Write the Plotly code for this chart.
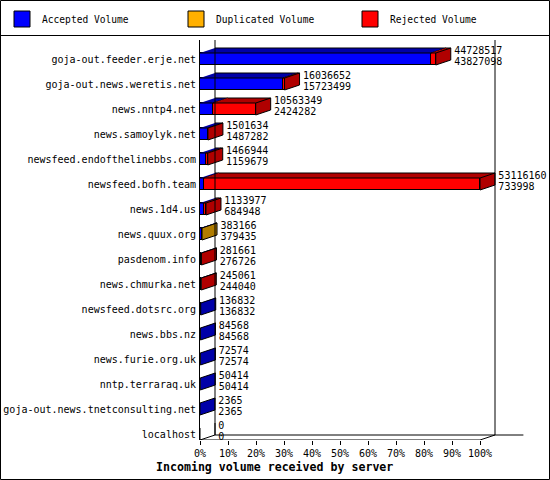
import plotly.graph_objects as go

# ---------------- data ----------------
hosts = [
    "goja-out.feeder.erje.net",
    "goja-out.news.weretis.net",
    "news.nntp4.net",
    "news.samoylyk.net",
    "newsfeed.endofthelinebbs.com",
    "newsfeed.bofh.team",
    "news.1d4.us",
    "news.quux.org",
    "pasdenom.info",
    "news.chmurka.net",
    "newsfeed.dotsrc.org",
    "news.bbs.nz",
    "news.furie.org.uk",
    "nntp.terraraq.uk",
    "goja-out.news.tnetconsulting.net",
    "localhost",
]
total_volume = [44728517, 16036652, 10563349, 1501634, 1466944, 53116160,
                1133977, 383166, 281661, 245061, 136832, 84568, 72574,
                50414, 2365, 0]
accepted_volume = [43827098, 15723499, 2424282, 1487282, 1159679, 733998,
                   684948, 379435, 276726, 244040, 136832, 84568, 72574,
                   50414, 2365, 0]
duplicated_volume = [0, 0, 0, 0, 0, 0, 0, 3731, 0, 0, 0, 0, 0, 0, 0, 0]
rejected_volume = [t - a - d for t, a, d in
                   zip(total_volume, accepted_volume, duplicated_volume)]

series_names = ["Accepted Volume", "Duplicated Volume", "Rejected Volume"]
pct_ticks = [0, 10, 20, 30, 40, 50, 60, 70, 80, 90, 100]
pct_tick_labels = [f"{p}%" for p in pct_ticks]
x_title = "Incoming volume received by server"

# ---------------- style ----------------
FRONT = ["#0000FF", "#FFB000", "#FF0000"]
DARK = ["#0000A8", "#B07C00", "#B00000"]
MONO = "DejaVu Sans Mono"

W, H_FIG = 550, 480
M_L, M_R, M_T, M_B = 200, 1, 40, 40
PX_PER_PCT = 2.8
ROW_PX = 25
DX = 15 / PX_PER_PCT          # depth offset along x (in %)
DY = 5 / ROW_PX               # depth offset along y (in rows)
HALF = 6 / ROW_PX             # half bar height (in rows)

plot_w = W - M_L - M_R
plot_h = H_FIG - M_T - M_B
x_max = plot_w / PX_PER_PCT
y_top = -(59 - M_T) / ROW_PX
y_bot = y_top + plot_h / ROW_PX

scale_max = max(total_volume)
def pct(v):
    return v / scale_max * 100.0

series_vals = [accepted_volume, duplicated_volume, rejected_volume]
rows = list(range(len(hosts)))

fig = go.Figure()

# front faces: stacked horizontal bars
for k, vals in enumerate(series_vals):
    fig.add_trace(go.Bar(
        y=rows, x=[pct(v) if v > 0 else None for v in vals],
        orientation="h", width=2 * HALF,
        marker=dict(color=FRONT[k], line=dict(color="black", width=1)),
        name=series_names[k], legendgroup=series_names[k],
        showlegend=False, hoverinfo="skip",
    ))

# 3-D faces (tops of each segment, side of last segment), from the data
poly_x = {c: [] for c in DARK + ["white"]}
poly_y = {c: [] for c in DARK + ["white"]}
def add_poly(color, pts):
    for px_, py_ in pts:
        poly_x[color].append(px_)
        poly_y[color].append(py_)
    poly_x[color].append(None)
    poly_y[color].append(None)

for i in rows:
    start = 0.0
    last_color = "white"
    for k, vals in enumerate(series_vals):
        v = vals[i]
        if v <= 0:
            continue
        end = start + pct(v)
        yt = i - HALF
        add_poly(DARK[k], [(start, yt), (end, yt), (end + DX, yt - DY),
                           (start + DX, yt - DY)])
        start = end
        last_color = DARK[k]
    e = pct(total_volume[i])
    add_poly(last_color, [(e, i - HALF), (e, i + HALF), (e + DX, i + HALF - DY),
                          (e + DX, i - HALF - DY)])

for c in DARK + ["white"]:
    if poly_x[c]:
        fig.add_trace(go.Scatter(
            x=poly_x[c], y=poly_y[c], mode="lines", fill="toself",
            fillcolor=c, line=dict(color="black", width=1),
            showlegend=False, hoverinfo="skip",
        ))

# walls / floor
floor = y_bot
floor_b = floor - DY
wx = [DX, DX, None, 100 + DX, 100 + DX, None,
      0, 100, 100 + DX, None, DX, 115.5]
wy = [y_top, floor_b, None, y_top, floor_b, None,
      floor, floor, floor_b, None, floor_b, floor_b]
fig.add_trace(go.Scatter(x=wx, y=wy, mode="lines",
                         line=dict(color="black", width=1),
                         showlegend=False, hoverinfo="skip"))

# value labels
lab_x = [pct(t) + DX + 1.2 for t in total_volume]
fig.add_trace(go.Scatter(
    x=lab_x, y=[i - 0.30 for i in rows], mode="text",
    text=[str(t) for t in total_volume], textposition="middle right",
    textfont=dict(family=MONO, size=10, color="black"),
    showlegend=False, hoverinfo="skip", cliponaxis=False))
fig.add_trace(go.Scatter(
    x=lab_x, y=[i + 0.14 for i in rows], mode="text",
    text=[str(a) for a in accepted_volume], textposition="middle right",
    textfont=dict(family=MONO, size=10, color="black"),
    showlegend=False, hoverinfo="skip", cliponaxis=False))

# legend entries (one legend per entry, laid out across the top band)
legend_ids = ["legend", "legend2", "legend3"]
legend_px = [2, 176, 350]
for k in range(3):
    fig.add_trace(go.Scatter(
        x=[None], y=[None], mode="markers", name=series_names[k],
        legendgroup=series_names[k], legend=legend_ids[k],
        marker=dict(symbol="square", size=16, color=FRONT[k],
                    line=dict(color="black", width=1)),
    ))

def paper_x(px_):
    return (px_ - M_L) / plot_w
def paper_y(py_):
    return (H_FIG - M_B - py_) / plot_h

legend_common = dict(orientation="h", xref="container", yref="container",
                     y=1 - 19 / H_FIG, xanchor="left", yanchor="middle",
                     font=dict(family=MONO, size=9.6, color="black"),
                     bgcolor="rgba(0,0,0,0)", itemsizing="trace")

fig.update_layout(
    width=W, height=H_FIG,
    margin=dict(l=M_L, r=M_R, t=M_T, b=M_B, pad=0, autoexpand=False),
    paper_bgcolor="white", plot_bgcolor="white",
    barmode="stack", bargap=0,
    font=dict(family=MONO, size=10, color="black"),
    showlegend=True,
    legend=dict(x=legend_px[0] / W, **legend_common),
    legend2=dict(x=legend_px[1] / W, **legend_common),
    legend3=dict(x=legend_px[2] / W, **legend_common),
    title=dict(text="<b>" + x_title + "</b>", xref="container", yref="container",
               x=156 / W, xanchor="left", y=1 - 467 / H_FIG, yanchor="middle",
               font=dict(family=MONO, size=11.6, color="black")),
    xaxis=dict(range=[0, x_max], tickvals=pct_ticks, ticktext=pct_tick_labels,
               ticks="outside", ticklen=4, tickcolor="black", tickwidth=1,
               showgrid=False, zeroline=False, showline=False,
               tickfont=dict(family=MONO, size=10, color="black"),
               fixedrange=True, automargin=False),
    yaxis=dict(range=[y_bot, y_top], tickvals=rows, ticktext=hosts,
               ticks="", showgrid=False, zeroline=False,
               showline=True, linecolor="black", linewidth=1,
               tickfont=dict(family=MONO, size=10, color="black"),
               ticklabelstandoff=1, fixedrange=True, automargin=False),
    shapes=[
        dict(type="rect", xref="paper", yref="paper",
             x0=paper_x(0.5), x1=paper_x(549.5), y0=paper_y(479.5), y1=paper_y(0.5),
             line=dict(color="black", width=1), fillcolor="rgba(0,0,0,0)"),
        dict(type="line", xref="paper", yref="paper",
             x0=paper_x(0), x1=paper_x(550), y0=paper_y(35.5), y1=paper_y(35.5),
             line=dict(color="black", width=1)),
    ],
)

fig.write_html(
    "out.html",
    config={"displayModeBar": False},
    post_script="document.body.style.margin='0px';document.body.style.overflow='hidden';",
)
